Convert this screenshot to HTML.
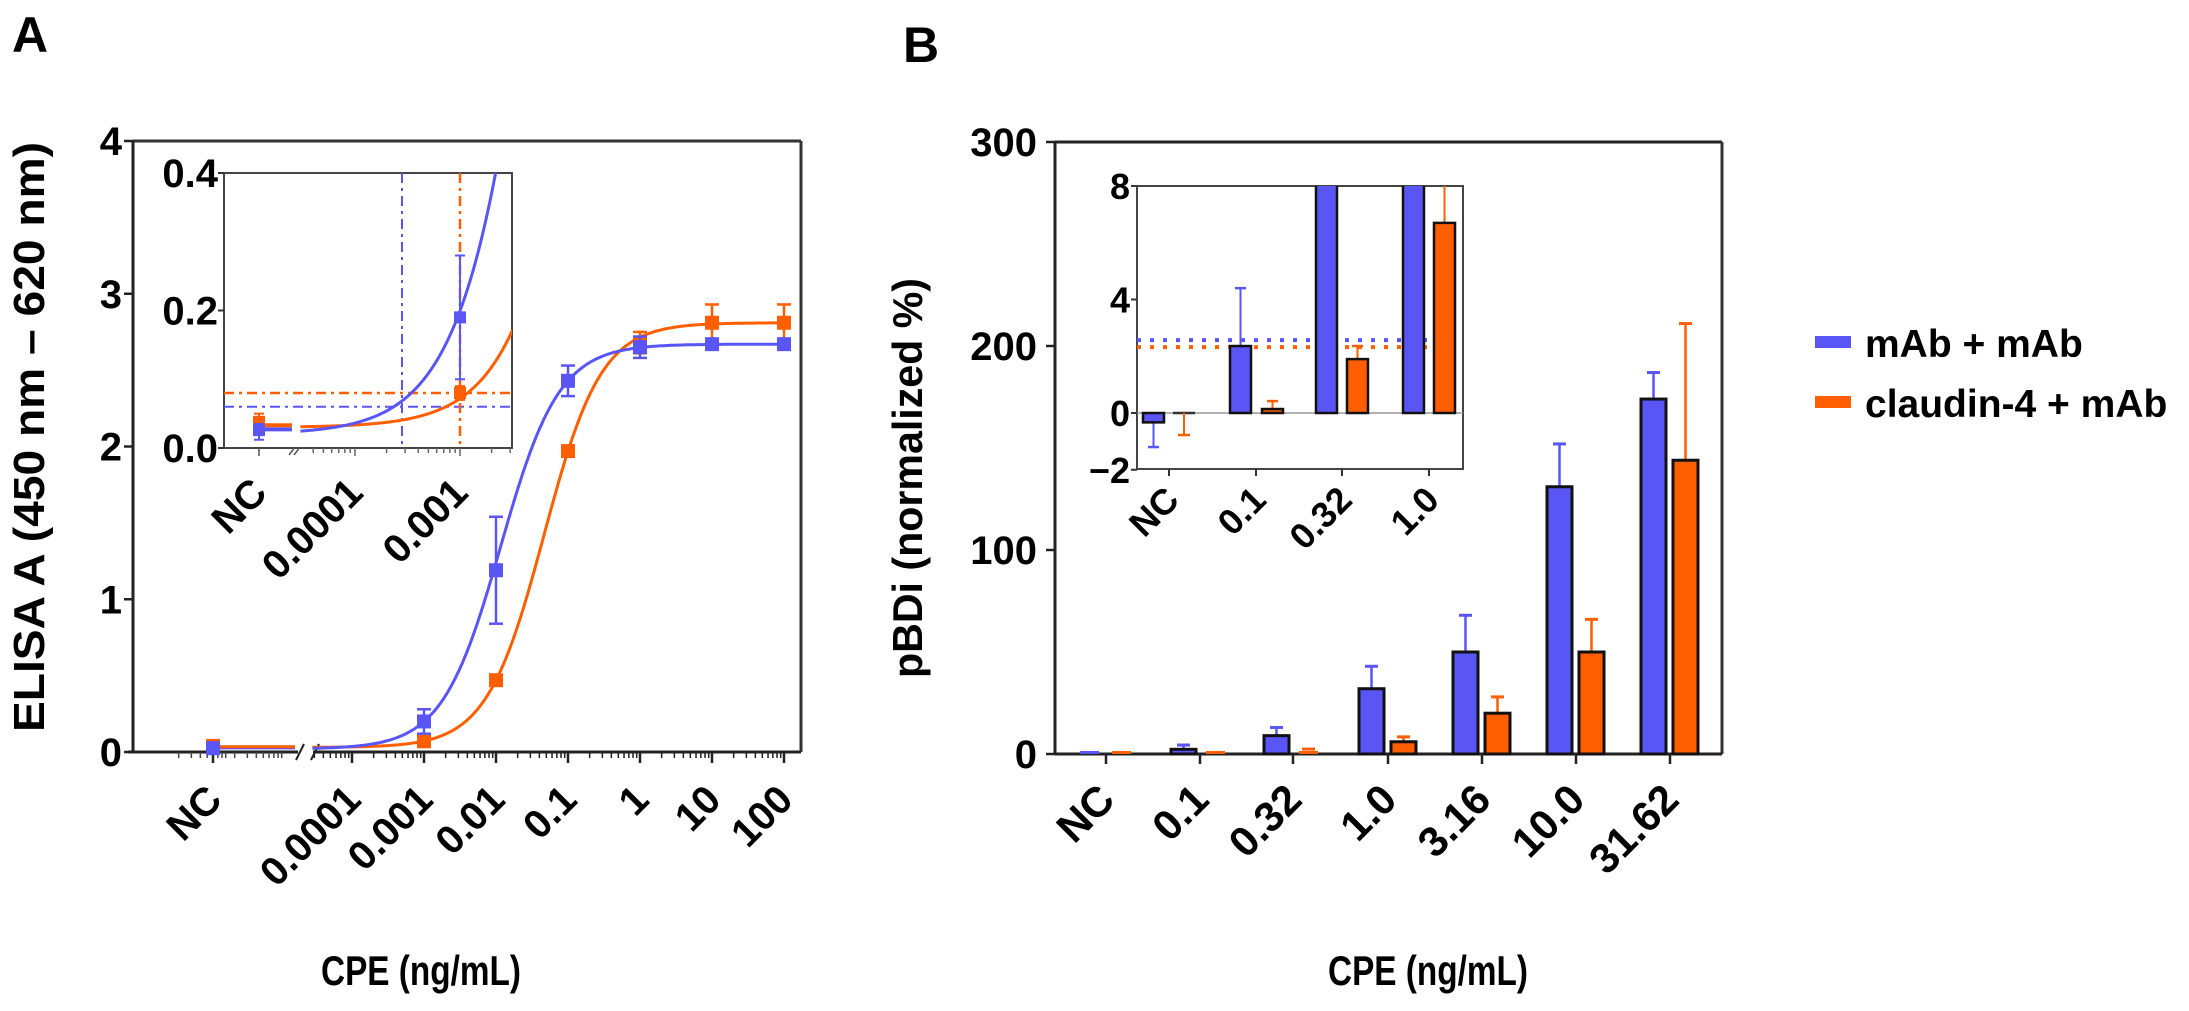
<!DOCTYPE html>
<html><head><meta charset="utf-8">
<style>
html,body{margin:0;padding:0;background:#fff;}
svg{display:block;font-family:"Liberation Sans",Arial,sans-serif;font-weight:bold;}
</style></head>
<body>
<svg id="s" width="2189" height="1011" viewBox="0 0 2189 1011" xmlns="http://www.w3.org/2000/svg">
<text x="12" y="52" font-size="50">A</text>
<text x="903" y="62" font-size="50">B</text>
<text transform="translate(44,437) rotate(-90)" text-anchor="middle" font-size="44" textLength="590" lengthAdjust="spacingAndGlyphs">ELISA A (450 nm – 620 nm)</text>
<text transform="translate(922,478) rotate(-90)" text-anchor="middle" font-size="42" textLength="400" lengthAdjust="spacingAndGlyphs">pBDi (normalized %)</text>
<text x="421" y="985" text-anchor="middle" font-size="42" textLength="200" lengthAdjust="spacingAndGlyphs">CPE (ng/mL)</text>
<text x="1428" y="985" text-anchor="middle" font-size="42" textLength="200" lengthAdjust="spacingAndGlyphs">CPE (ng/mL)</text>
<rect x="1815" y="336" width="36" height="12" fill="#5a55f5"/>
<rect x="1815" y="396" width="36" height="12" fill="#ff5f00"/>
<text x="1865" y="357" font-size="39">mAb + mAb</text>
<text x="1865" y="417" font-size="39">claudin-4 + mAb</text>
<g id="g"></g>
</svg>
<script>
var B='#5a55f5',O='#ff5f00',out=[];
function L(x1,y1,x2,y2,c,w,extra){out.push('<line x1="'+x1+'" y1="'+y1+'" x2="'+x2+'" y2="'+y2+'" stroke="'+c+'" stroke-width="'+w+'" '+(extra||'')+'/>');}
function R(x,y,w,h,f,s,sw){out.push('<rect x="'+x+'" y="'+y+'" width="'+w+'" height="'+h+'" fill="'+f+'"'+(s?' stroke="'+s+'" stroke-width="'+sw+'"':'')+'/>');}
function T(x,y,t,fs,anchor,tr){out.push('<text '+(tr?'transform="'+tr+'"':'x="'+x+'" y="'+y+'"')+' font-size="'+fs+'" text-anchor="'+(anchor||'start')+'">'+t+'</text>');}
function rot(ex,ey,t,fs){T(0,0,t,fs,'end','translate('+ex+','+ey+') rotate(-45)');}
function P(pts,c,w,clip,extra){out.push('<polyline fill="none" stroke="'+c+'" stroke-width="'+w+'" points="'+pts.map(function(p){return p[0].toFixed(1)+','+p[1].toFixed(1)}).join(' ')+'"'+(clip?' clip-path="url(#'+clip+')"':'')+(extra||'')+'/>');}
function fB(x){return 0.02+2.65/(1+Math.pow(0.0116/x,1.07));}
function fO(x){return 0.03+2.78/(1+Math.pow(0.0464/x,1.089));}
out.push('<defs><clipPath id="cA"><rect x="224" y="173" width="288" height="275"/></clipPath><clipPath id="cB"><rect x="1137" y="186" width="326" height="283"/></clipPath></defs>');
var X=function(l){return 424+(l+3)*72;},Y=function(v){return 752-v*152.75;};
L(133,141,801,141,'#333',3);L(801,141,801,752,'#333',3);
L(133,141,133,752,'#222',3);
L(128,752,298,752,'#222',3);L(313,752,801,752,'#222',3);
L(296,760,304,744,'#222',2);L(311,760,319,744,'#222',2);
for(var v=0;v<=4;v++){L(124,Y(v),133,Y(v),'#222',2.5);T(122,Y(v)+14,v,40,'end');}
[157,213].forEach(function(s){for(var k=2;k<=9;k++){var x=s+Math.log10(k)*72;if(x<295&&x>140)L(x,752,x,758,'#444',1.5);}});
L(213,752,213,763,'#222',2.5);
for(var d=-5;d<=2;d++){for(var k=1;k<=9;k++){var l=d+Math.log10(k);if(l<-4.55||l>2.1)continue;var x=X(l);L(x,752,x,k==1?763:758,'#222',k==1?2.5:1.5);}}
var labs=[['NC',213],['0.0001',352],['0.001',424],['0.01',496],['0.1',568],['1',640],['10',712],['100',784]];
labs.forEach(function(a){rot(a[1]+11,802,a[0],40);});
function curve(f,l0,l1,Xf,Yf){var p=[];for(var l=l0;l<=l1+1e-9;l+=0.02)p.push([Xf(l),Yf(f(Math.pow(10,l)))]);return p;}
P([[213,Y(0.03)],[295,Y(0.03)]],B,4);P([[213,Y(0.035)],[295,Y(0.035)]],O,3);
P(curve(fO,-4.55,2.1,X,Y),O,3);P(curve(fB,-4.55,2.1,X,Y),B,3);
function pt(x,v,lo,hi,c){var y=Y(v);if(hi!=null){L(x,Y(hi),x,Y(lo),c,2.5);L(x-7,Y(hi),x+7,Y(hi),c,2.5);L(x-7,Y(lo),x+7,Y(lo),c,2.5);}R(x-7,y-7,14,14,c);}
var ob=[[-3,0.07,0.05,0.09],[-2,0.47,0.45,0.49],[-1,1.97,1.95,1.99],[0,2.68,2.61,2.75],[1,2.81,2.69,2.93],[2,2.81,2.69,2.93]];
var bb=[[-3,0.2,0.12,0.28],[-2,1.19,0.84,1.54],[-1,2.43,2.33,2.53],[0,2.65,2.58,2.72],[1,2.67,2.64,2.7],[2,2.67,2.64,2.7]];
pt(213,0.04,0.02,0.07,O);ob.forEach(function(a){pt(X(a[0]),a[1],a[2],a[3],O);});
pt(213,0.025,0.01,0.04,B);bb.forEach(function(a){pt(X(a[0]),a[1],a[2],a[3],B);});
var Xi=function(l){return 460+(l+3)*105;},Yi=function(v){return 448-v*687.5;};
R(224,173,288,275,'#fff','#444',2);
[0,0.2,0.4].forEach(function(v){L(218,Yi(v),224,Yi(v),'#333',2);T(218,Yi(v)+14,v.toFixed(1),40,'end');});
L(259,448,259,456,'#555',1.5);
for(var d=-5;d<=-3;d++){for(var k=1;k<=9;k++){var l=d+Math.log10(k);if(l<-4.52||l>-2.5)continue;var x=Xi(l);L(x,448,x,k==1?456:453,'#666',1.5);}}
L(289,455,295,447,'#555',1.5);L(294,455,300,447,'#555',1.5);
[['NC',259],['0.0001',355],['0.001',460]].forEach(function(a){rot(a[1]+10,495,a[0],40);});
var dd=' stroke-dasharray="10,5,3,5"';
out.push('<g clip-path="url(#cA)">');
L(224,Yi(0.08),512,Yi(0.08),O,2.5,dd);L(224,Yi(0.06),512,Yi(0.06),B,2,dd);
L(460,173,460,448,O,2.5,dd);L(402,173,402,448,B,2,dd);
P([[259,Yi(0.033)],[292,Yi(0.033)]],O,4);P([[259,Yi(0.027)],[292,Yi(0.027)]],B,4);
P(curve(fO,-4.52,-2.5,Xi,Yi),O,3);P(curve(fB,-4.52,-2.5,Xi,Yi),B,3);
function pti(x,v,lo,hi,c){L(x,Yi(hi),x,Yi(lo),c,2);L(x-5,Yi(hi),x+5,Yi(hi),c,2);L(x-5,Yi(lo),x+5,Yi(lo),c,2);R(x-6,Yi(v)-6,12,12,c);}
pti(259,0.038,0.03,0.05,O);pti(259,0.026,0.012,0.035,B);
pti(460,0.08,0.07,0.09,O);pti(460,0.19,0.1,0.28,B);
out.push('</g>');
var Yb=function(v){return 754-v*2.04;};
L(1055,142,1722,142,'#222',3);L(1722,142,1722,754,'#333',3);
L(1055,142,1055,754,'#222',3);L(1055,754,1722,754,'#222',3);
[0,100,200,300].forEach(function(v){L(1046,Yb(v),1055,Yb(v),'#222',2.5);T(1037,Yb(v)+14,v,40,'end');});
var tk=[1106,1200,1293,1388,1482,1576,1670],tl=['NC','0.1','0.32','1.0','3.16','10.0','31.62'];
var bv=[[0.5,0],[2.3,4.4],[9,13],[32,43],[50,68],[131,152],[174,187]];
var ov=[[0.5,0],[0.5,0],[1.9,2.4],[6,8.4],[20,28],[50,66],[144,211]];
tk.forEach(function(t,i){
 L(t,754,t,764,'#222',2.5);rot(t+11,802,tl[i],42);
 function bar(x0,val,err,c){var h=val*2.04;
  if(err>val){L(x0+12.5,Yb(err),x0+12.5,Yb(val),c,2.5);L(x0+6,Yb(err),x0+19,Yb(err),c,3);}
  if(h<4){R(x0+3,751,19,3,c);}else R(x0,754-h,25,h,c,'#111',3);}
 bar(t-29,bv[i][0],bv[i][1],B);bar(t+3,ov[i][0],ov[i][1],O);
});
var Yn=function(v){return 413-v*28.375;};
R(1137,186,326,283,'#fff','#444',2);
[[8,'8'],[4,'4'],[0,'0'],[-2,'−2']].forEach(function(a){L(1131,Yn(a[0]),1137,Yn(a[0]),'#333',2);T(1130,Yn(a[0])+13,a[1],36,'end');});
var ti=[1169,1256,1342,1429],til=['NC','0.1','0.32','1.0'];
ti.forEach(function(t,i){L(t,469,t,476,'#333',2);rot(t+12,502,til[i],36);});
out.push('<g clip-path="url(#cB)">');
L(1137,413,1463,413,'#999',1.5);
var ds=' stroke-dasharray="4,9"';
L(1137,Yn(2.57),1427,Yn(2.57),B,4,ds);L(1137,Yn(2.32),1427,Yn(2.32),O,4,ds);
function ib(x0,val,lo,hi,c){
 if(hi!=null){L(x0+10.5,Yn(hi),x0+10.5,Yn(val),c,2);L(x0+5,Yn(hi),x0+16,Yn(hi),c,2.5);}
 if(lo!=null){L(x0+10.5,Yn(lo),x0+10.5,Yn(val),c,2);L(x0+5,Yn(lo),x0+16,Yn(lo),c,2.5);}
 var y0=Yn(0),y1=Yn(val);R(x0,Math.min(y0,y1),21,Math.max(Math.abs(y1-y0),2),c,'#111',2.5);}
ib(1143,-0.33,-1.2,null,B);
L(1173,413,1195,413,'#333',2.5);L(1184,413,1184,435,O,2);L(1178,435,1190,435,O,2.5);
ib(1230,2.36,null,4.4,B);ib(1262,0.14,null,0.42,O);
ib(1316,12,null,null,B);ib(1347,1.9,null,2.36,O);
ib(1403,12,null,null,B);ib(1434,6.7,null,12,O);
out.push('</g>');
document.getElementById('g').innerHTML=out.join('');
</script>
</body></html>
